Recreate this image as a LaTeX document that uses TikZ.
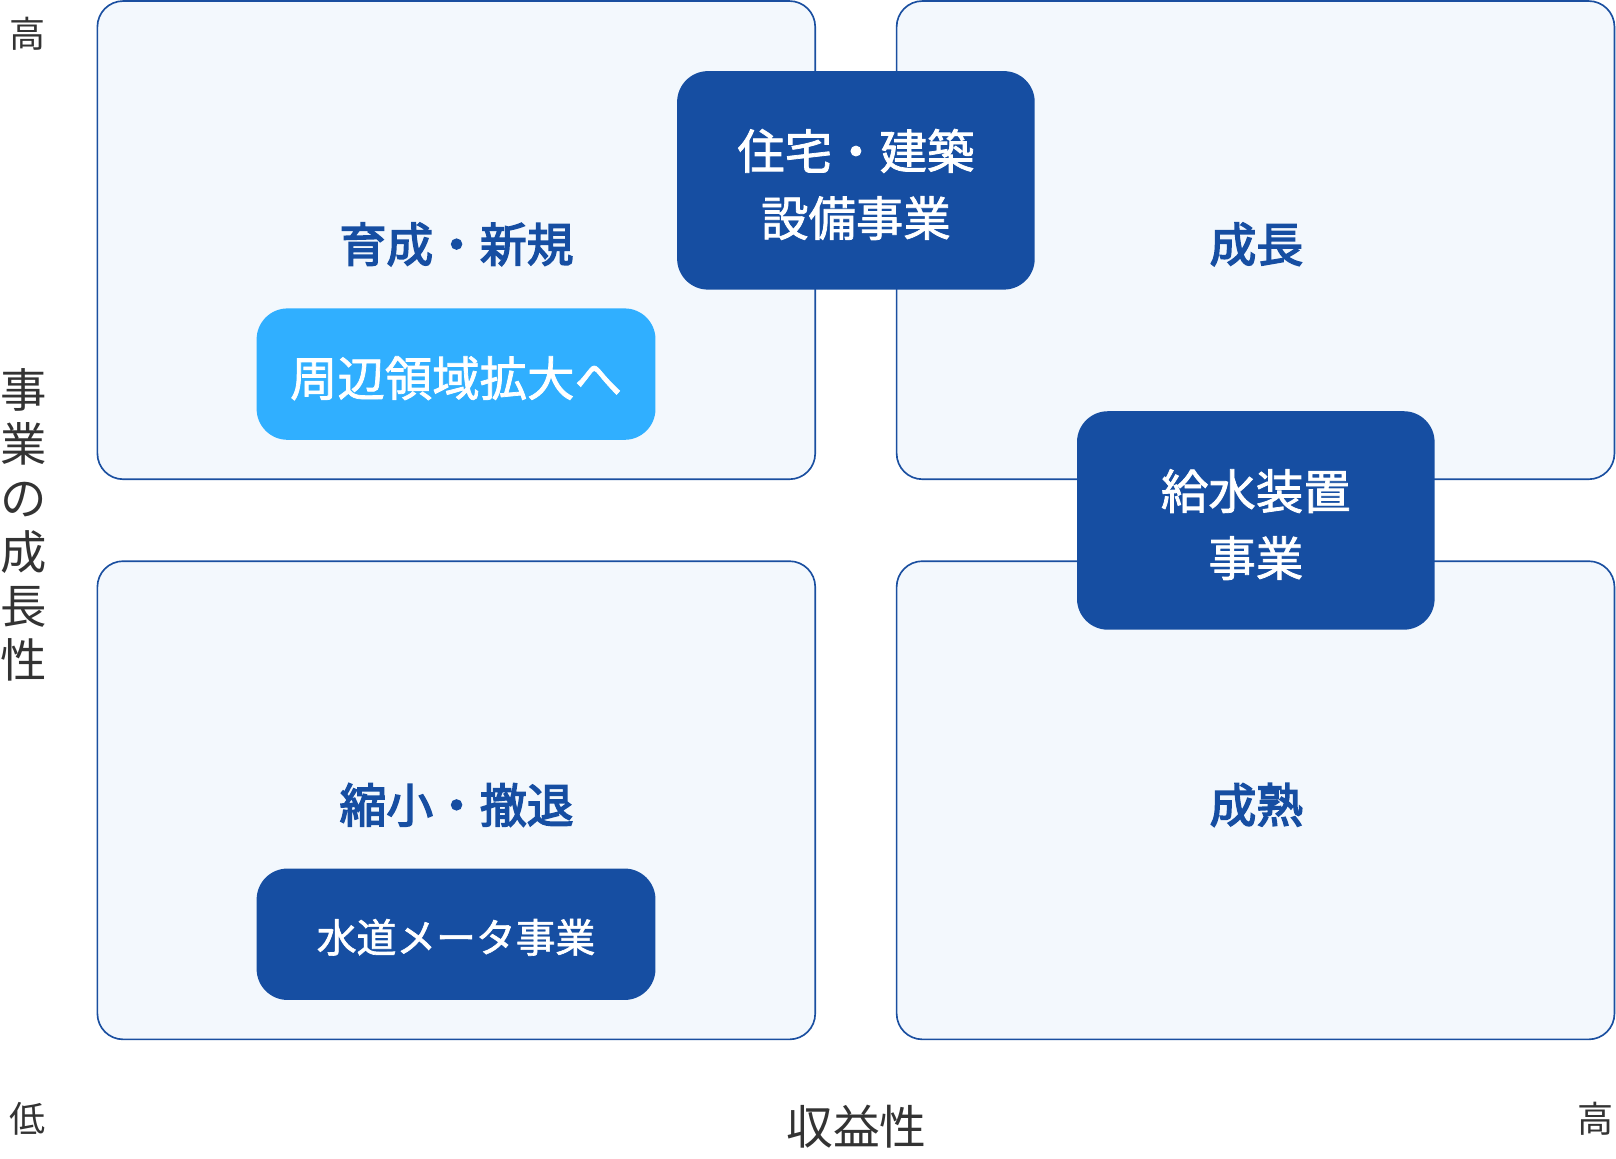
\documentclass[tikz,border=0pt]{standalone}
\usepackage{fontspec}
\setmainfont{Noto Sans CJK JP}
\newfontfamily\qlabfont[FakeBold=3.2]{Noto Sans CJK JP}
\newfontfamily\boxfont[FakeBold=1.6]{Noto Sans CJK JP}
\definecolor{dblue}{HTML}{164EA2}
\definecolor{lblue}{HTML}{30AFFF}
\definecolor{qfill}{HTML}{F3F8FD}
\definecolor{qline}{HTML}{1A4FA0}
\definecolor{txt}{HTML}{333333}
\newcommand\lowr[1]{\raisebox{-2pt}[\height][\depth]{#1}}
\begin{document}
\begin{tikzpicture}[x=0.5pt,y=-0.5pt,
  quad/.style={draw=qline, line width=0.8pt, fill=qfill, rounded corners=12.5pt,
    minimum width=348.25pt, minimum height=232pt, inner sep=0pt, outer sep=0pt},
  bizbox/.style={fill=dblue, rounded corners=15pt, text=white, align=center,
    minimum width=173.5pt, minimum height=106pt, inner sep=0pt,
    font=\fontsize{23pt}{32.5pt}\boxfont},
  pillbox/.style={rounded corners=15pt, text=white, align=center,
    minimum width=193.5pt, minimum height=63.75pt, inner sep=0pt},
  qlabel/.style={text=dblue, inner sep=0pt, font=\fontsize{22.7pt}{27pt}\qlabfont},
  axlabel/.style={text=txt, inner sep=0pt}
]
\useasboundingbox (0,0) rectangle (1568,1124);
% quadrants
\node[quad] (qtl) at (442.75,233) {};
\node[quad] (qtr) at (1218.25,233) {};
\node[quad] (qbl) at (442.75,776.5) {};
\node[quad] (qbr) at (1218.25,776.5) {};
% quadrant labels
\node[qlabel] (ltl) at (443,237) {育成・新規};
\node[qlabel] (ltr) at (1219,237) {成長};
\node[qlabel] (lbl) at (443,781) {縮小・撤退};
\node[qlabel] (lbr) at (1219,781) {成熟};
% business boxes
\node[bizbox] (jutaku) at (830.5,175) {\lowr{住宅・建築}\\\lowr{設備事業}};
\node[bizbox] (kyusui) at (1218.5,505) {\lowr{給水装置}\\\lowr{事業}};
\node[pillbox, fill=lblue, font=\fontsize{23pt}{28pt}\boxfont] (shuhen) at (442.5,363) {\lowr{周辺領域拡大へ}};
\node[pillbox, fill=dblue, font=\fontsize{19.3pt}{24pt}\boxfont] (suido) at (442.5,906.5) {\raisebox{-1.5pt}[\height][\depth]{水道メータ事業}};
% axes labels
\node[axlabel, font=\fontsize{17.5pt}{21pt}\selectfont] (yhigh) at (27,33) {高};
\node[axlabel, font=\fontsize{17.5pt}{21pt}\selectfont] (low) at (27,1086) {低};
\node[axlabel, font=\fontsize{17.5pt}{21pt}\selectfont] (xhigh) at (1548,1086) {高};
\node[axlabel, font=\fontsize{22.7pt}{27pt}\selectfont] (xlab) at (831,1093) {収益性};
\node[axlabel, align=center, font=\fontsize{22.5pt}{26.2pt}\selectfont] (ylab) at (23,509) {事\\業\\の\\成\\長\\性};
\end{tikzpicture}
\end{document}
